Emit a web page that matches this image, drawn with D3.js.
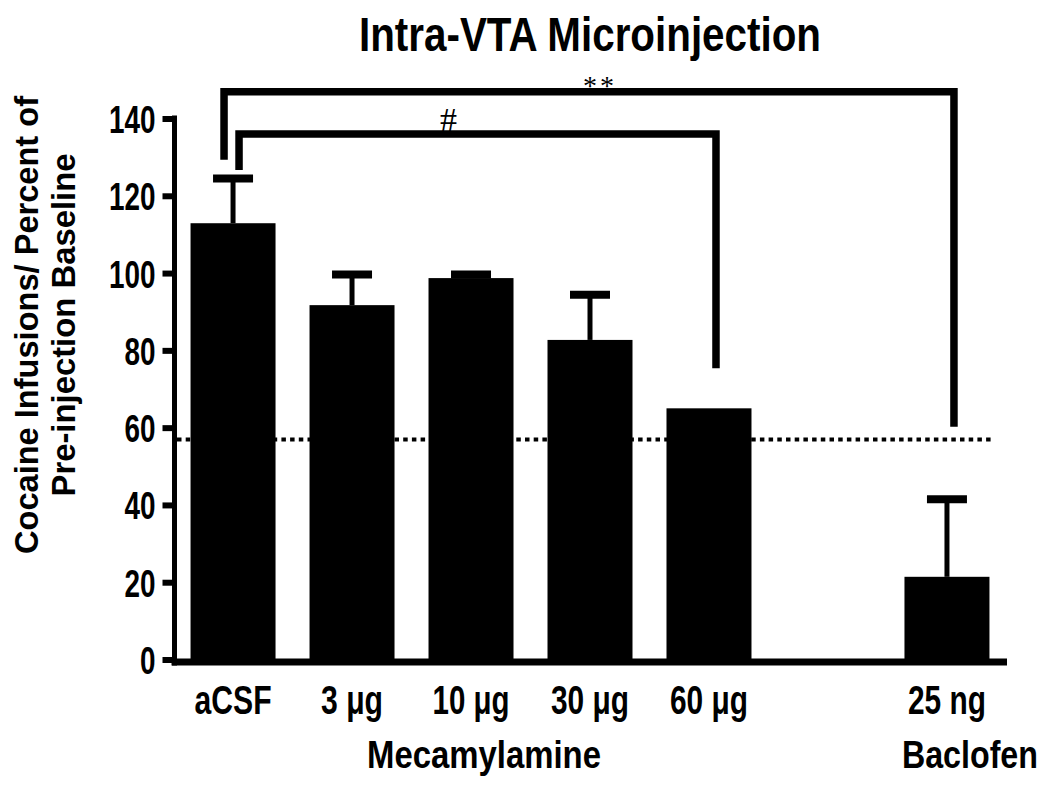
<!DOCTYPE html>
<html>
<head>
<meta charset="utf-8">
<script src="https://cdn.jsdelivr.net/npm/d3@7"></script>
<style>
  html, body { margin: 0; padding: 0; background: #fff; }
  svg { display: block; }
  text { font-family: "Liberation Sans", Arial, sans-serif; font-weight: bold; fill: #000; }
</style>
</head>
<body>
<svg id="chart" width="1050" height="789"></svg>
<script>
// ---- data ----
const slots = ["aCSF", "3 μg", "10 μg", "30 μg", "60 μg", "(gap)", "25 ng"];
const categories = ["aCSF", "3 μg", "10 μg", "30 μg", "60 μg", "25 ng"];
const means = [112.9, 91.7, 98.7, 82.7, 65.0, 21.4];
const sems = [11.6, 7.9, 0.9, 11.7, 0, 20.1];
const yTicks = [0, 20, 40, 60, 80, 100, 120, 140];
const baselineValue = 56.9;
const groupLabels = ["Mecamylamine", "Baclofen"];
const groupAnchors = ["10 μg", "25 ng"];
const bracketFrom = ["aCSF", "aCSF"];
const bracketTo = ["25 ng", "60 μg"];
const bracketLevel = [146.9, 136.0];
const bracketFromEnd = [129.3, 126.7];
const bracketToEnd = [60.2, 75.4];
const bracketLabels = ["**", "#"];
const titleText = "Intra-VTA Microinjection";
const yLabelLines = ["Cocaine Infusions/ Percent of", "Pre-injection Baseline"];

// ---- scales ----
const svg = d3.select("#chart");
const x = d3.scaleBand().domain(slots).range([174, 1006]).paddingInner(0.2857).paddingOuter(0.139);
const y = d3.scaleLinear().domain([0, 140]).range([659.5, 118.5]);
const cx = c => x(c) + x.bandwidth() / 2;

// title
svg.append("text").attr("x", 590).attr("y", 51).attr("text-anchor", "middle")
  .attr("font-size", 48).attr("textLength", 462).attr("lengthAdjust", "spacingAndGlyphs")
  .text(titleText);

// y label
const yl = svg.append("g").attr("transform", "translate(0,325) rotate(-90)");
yl.append("text").attr("x", 0).attr("y", 38).attr("text-anchor", "middle")
  .attr("font-size", 34).attr("textLength", 458).attr("lengthAdjust", "spacingAndGlyphs")
  .text(yLabelLines[0]);
yl.append("text").attr("x", 0).attr("y", 75).attr("text-anchor", "middle")
  .attr("font-size", 34).attr("textLength", 343).attr("lengthAdjust", "spacingAndGlyphs")
  .text(yLabelLines[1]);

// dotted baseline
svg.append("line")
  .attr("x1", x.range()[0] + 3).attr("x2", x("25 ng") + x.bandwidth() + 2)
  .attr("y1", y(baselineValue)).attr("y2", y(baselineValue))
  .attr("stroke", "#000").attr("stroke-width", 4).attr("stroke-dasharray", "4.5,4.2");

// bars
const data = categories.map((c, i) => ({ c, m: means[i], s: sems[i] }));
svg.append("g").selectAll("rect").data(data).join("rect")
  .attr("x", d => x(d.c)).attr("width", x.bandwidth())
  .attr("y", d => y(d.m)).attr("height", d => y(0) - y(d.m))
  .attr("fill", "#000");

// error bars
const eb = svg.append("g").selectAll("g").data(data.filter(d => d.s > 0)).join("g");
eb.append("line")
  .attr("x1", d => cx(d.c)).attr("x2", d => cx(d.c))
  .attr("y1", d => y(d.m)).attr("y2", d => y(d.m + d.s))
  .attr("stroke", "#000").attr("stroke-width", 5);
eb.append("line")
  .attr("x1", d => cx(d.c) - 20).attr("x2", d => cx(d.c) + 20)
  .attr("y1", d => y(d.m + d.s)).attr("y2", d => y(d.m + d.s))
  .attr("stroke", "#000").attr("stroke-width", 8);

// y axis
const yAxis = svg.append("g").attr("transform", "translate(174.5,0)")
  .call(d3.axisLeft(y).tickValues(yTicks).tickSize(12).tickSizeOuter(0).tickPadding(7));
yAxis.select(".domain").attr("stroke", "#000").attr("stroke-width", 5)
  .attr("d", `M0,${y(140) - 3}V${y(0) + 6}`);
yAxis.selectAll(".tick line").attr("stroke", "#000").attr("stroke-width", 6);
yAxis.selectAll(".tick text")
  .attr("font-size", 39).attr("font-family", "Liberation Sans, Arial, sans-serif")
  .attr("font-weight", "bold").attr("dy", "0.36em").attr("x", -19)
  .attr("textLength", d => String(d).length * 15.5).attr("lengthAdjust", "spacingAndGlyphs");

// x axis line
svg.append("line")
  .attr("x1", x.range()[0] - 2.5).attr("x2", x.range()[1] + 1)
  .attr("y1", y(0) + 2.5).attr("y2", y(0) + 2.5)
  .attr("stroke", "#000").attr("stroke-width", 7);

// x labels
const xlw = [77, 62, 77, 78, 78, 78];
svg.append("g").selectAll("text").data(categories).join("text")
  .attr("x", d => cx(d)).attr("y", 714).attr("text-anchor", "middle")
  .attr("font-size", 40).attr("textLength", (d, i) => xlw[i]).attr("lengthAdjust", "spacingAndGlyphs")
  .text(d => d);
const glw = [234, 136];
const gdx = [13, 23];
svg.append("g").selectAll("text").data(groupLabels).join("text")
  .attr("x", (d, i) => cx(groupAnchors[i]) + gdx[i]).attr("y", 768).attr("text-anchor", "middle")
  .attr("font-size", 38).attr("textLength", (d, i) => glw[i]).attr("lengthAdjust", "spacingAndGlyphs")
  .text(d => d);

// brackets
const fromDx = [-9, 6], toDx = [7, 7];
const labelDx = [11, -29];
const labelY = [95, 131];
const labelSize = [28, 34];
bracketLabels.forEach((lab, i) => {
  const x1 = cx(bracketFrom[i]) + fromDx[i], x2 = cx(bracketTo[i]) + toDx[i];
  svg.append("path")
    .attr("d", `M${x1},${y(bracketFromEnd[i])}V${y(bracketLevel[i])}H${x2}V${y(bracketToEnd[i])}`)
    .attr("fill", "none").attr("stroke", "#000").attr("stroke-width", 7.5).attr("stroke-linejoin", "miter");
  svg.append("text")
    .attr("x", (x1 + x2) / 2 + labelDx[i]).attr("y", labelY[i]).attr("text-anchor", "middle")
    .attr("font-size", labelSize[i]).attr("letter-spacing", i === 0 ? 3 : 0)
    .style("font-family", "Liberation Serif, serif").style("font-weight", "normal")
    .text(lab);
});
</script>
</body>
</html>
